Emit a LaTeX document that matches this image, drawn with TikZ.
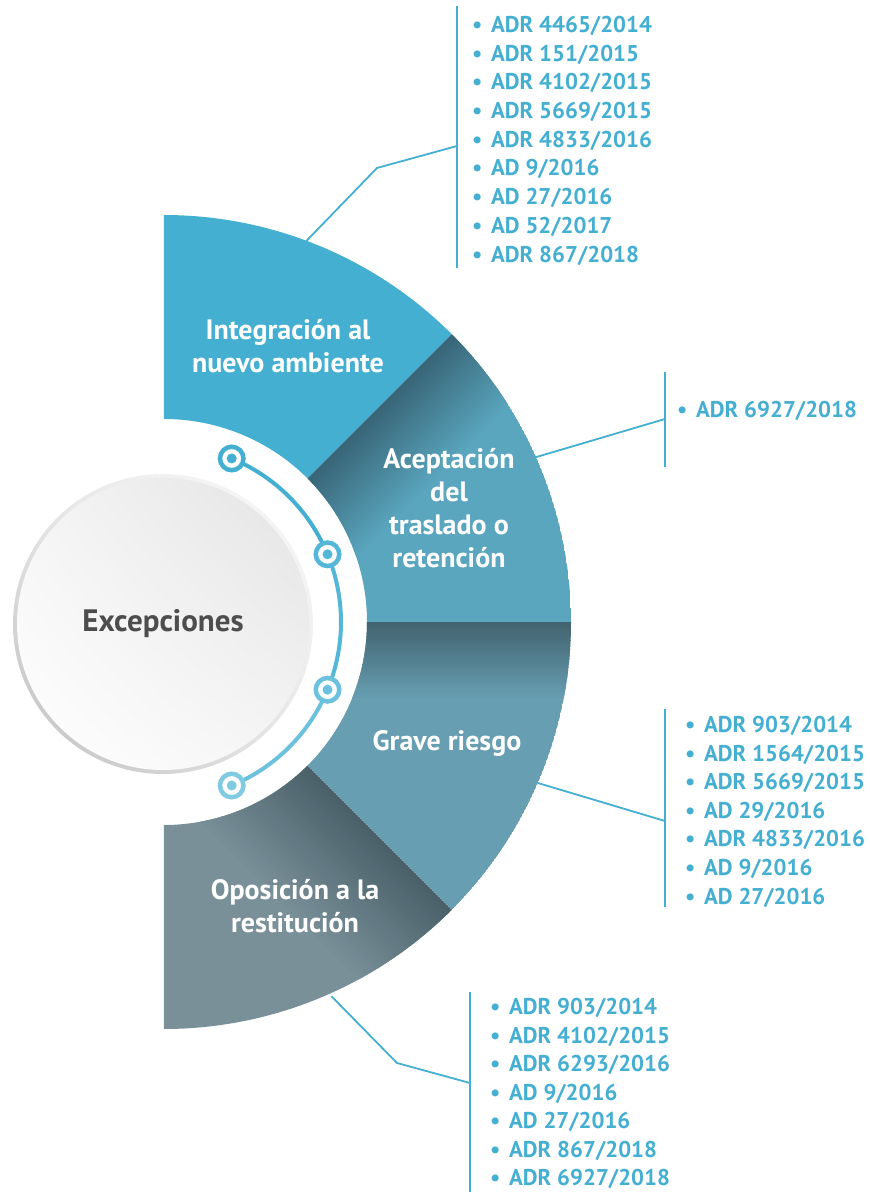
\documentclass[tikz,border=0pt]{standalone}
\usepackage{fontspec}
\setmainfont{PT Sans}
\usepackage{tikz}
\usetikzlibrary{shadings}

\definecolor{secA}{HTML}{45AFD2}
\definecolor{secB}{HTML}{5AA6BE}
\definecolor{secBd}{HTML}{386577}
\definecolor{secC}{HTML}{679EB2}
\definecolor{secCd}{HTML}{42636F}
\definecolor{secD}{HTML}{7A9099}
\definecolor{secDd}{HTML}{4B616A}
\definecolor{ink}{HTML}{45AFD2}
\definecolor{capgrey}{HTML}{4D4D4D}
\definecolor{dotA}{HTML}{45AFD2}
\definecolor{dotB}{HTML}{55B7D8}
\definecolor{dotC}{HTML}{6CC1DE}
\definecolor{dotD}{HTML}{80CAE2}

% ring sector between two angles
\newcommand\ringpath[2]{(#1:203) -- (#1:407) arc[start angle=#1, end angle=#2, radius=407] -- (#2:203) arc[start angle=#2, end angle=#1, radius=203] -- cycle}
\newcommand\entry[1]{\makebox[28pt][c]{\textbullet}#1}

\begin{document}
\begin{tikzpicture}[x=1pt,y=1pt,
  label/.style={align=center,text=white,font=\bfseries\fontsize{28}{33}\selectfont,inner sep=0pt},
  item/.style={anchor=base west,inner sep=0pt,text=ink,font=\bfseries\fontsize{22.8}{28}\selectfont},
  lead/.style={draw=ink,line width=1.8pt},
  marker/.style={circle,draw=#1,line width=4.5pt,fill=white,minimum size=23.5pt,inner sep=0pt,
    path picture={\fill[#1] (path picture bounding box.center) circle (5);}}]
 \useasboundingbox (-164,-570) rectangle (706,622);

 % sectors
 \fill[secA] \ringpath{90}{45};
 \foreach \s/\e/\b/\d/\w in {45/0/secB/secBd/3.6, 0/-45/secC/secCd/3.0, -45/-90/secD/secDd/4.6}{
  \begin{scope}
   \clip \ringpath{\s}{\e};
   \fill[\b] \ringpath{\s}{\e};
   \begin{scope}[rotate=\s]
    \foreach \i [evaluate=\i as \p using int(100-4*\i)] in {0,...,24}
     \fill[\d!\p!\b] (0,-\w*\i) rectangle (420,-\w*\i-\w-0.5);
   \end{scope}
  \end{scope}
 }

 \node[label] (s1) at (124,275.5) {Integración al\\nuevo ambiente};
 \node[label] (s2) at (285,114) {Aceptación\\del\\traslado o\\retención};
 \node[label] (s3) at (283,-121) {Grave riesgo};
 \node[label] (s4) at (131,-284.5) {Oposición a la\\restitución};

 % centre
 \coordinate (hub) at (-1,-2);
 \shade[upper right=gray!4,lower left=gray!50,upper left=gray!18,lower right=gray!18] (hub) circle (150);
 \node[circle,minimum size=292,inner sep=0pt,shade,upper right=gray!22,lower left=white,upper left=gray!8,lower right=gray!8,
   text=capgrey,font=\bfseries\fontsize{31}{33}\selectfont] (exc) at (hub) {Excepciones};

 % arc with markers
 \draw[dotA,line width=4pt] (67.5:177) arc[start angle=67.5,end angle=22.5,radius=177];
 \draw[dotB,line width=4pt] (22.5:177) arc[start angle=22.5,end angle=-22.5,radius=177];
 \draw[dotC,line width=4pt] (-22.5:177) arc[start angle=-22.5,end angle=-67.5,radius=177];
 \foreach \a/\c [count=\n] in {67.5/dotA, 22.5/dotB, -22.5/dotC, -67.5/dotD}
  \node[marker=\c] (m\n) at (\a:177) {};

 % lists
 \foreach \t [count=\k] in {ADR 4465/2014, ADR 151/2015, ADR 4102/2015, ADR 5669/2015, ADR 4833/2016, AD 9/2016, AD 27/2016, AD 52/2017, ADR 867/2018}
  \node[item] (La\k) at (299,618.2-28.7*\k) {\entry{\t}};
 \node[item] (Lb1) at (504,204.5) {\entry{ADR 6927/2018}};
 \foreach \t [count=\k] in {ADR 903/2014, ADR 1564/2015, ADR 5669/2015, AD 29/2016, ADR 4833/2016, AD 9/2016, AD 27/2016}
  \node[item] (Lc\k) at (512,-81.9-28.6*\k) {\entry{\t}};
 \foreach \t [count=\k] in {ADR 903/2014, ADR 4102/2015, ADR 6293/2016, AD 9/2016, AD 27/2016, ADR 867/2018, ADR 6927/2018}
  \node[item] (Ld\k) at (317,-364-28.5*\k) {\entry{\t}};

 % leaders
 \coordinate (a1) at (293,616); \coordinate (a2) at (293,354);
 \coordinate (t1) at (69.5:407); \coordinate (k1) at (213,454); \coordinate (j1) at (293,476);
 \draw[lead] (a1) -- (a2);
 \draw[lead] (t1) -- (k1) -- (j1);

 \coordinate (b1) at (501,250); \coordinate (b2) at (501,155);
 \coordinate (t2) at (23.9:407); \coordinate (j2) at (501,203);
 \draw[lead] (b1) -- (b2);
 \draw[lead] (t2) -- (j2);

 \coordinate (c1) at (501,-87); \coordinate (c2) at (501,-285);
 \coordinate (t3) at (-23.3:407); \coordinate (j3) at (501,-199);
 \draw[lead] (c1) -- (c2);
 \draw[lead] (t3) -- (j3);

 \coordinate (d1) at (306,-370); \coordinate (d2) at (306,-570);
 \coordinate (t4) at (-65.9:410); \coordinate (k4) at (233,-441); \coordinate (j4) at (306,-461);
 \draw[lead] (d1) -- (d2);
 \draw[lead] (t4) -- (k4) -- (j4);
\end{tikzpicture}
\end{document}
